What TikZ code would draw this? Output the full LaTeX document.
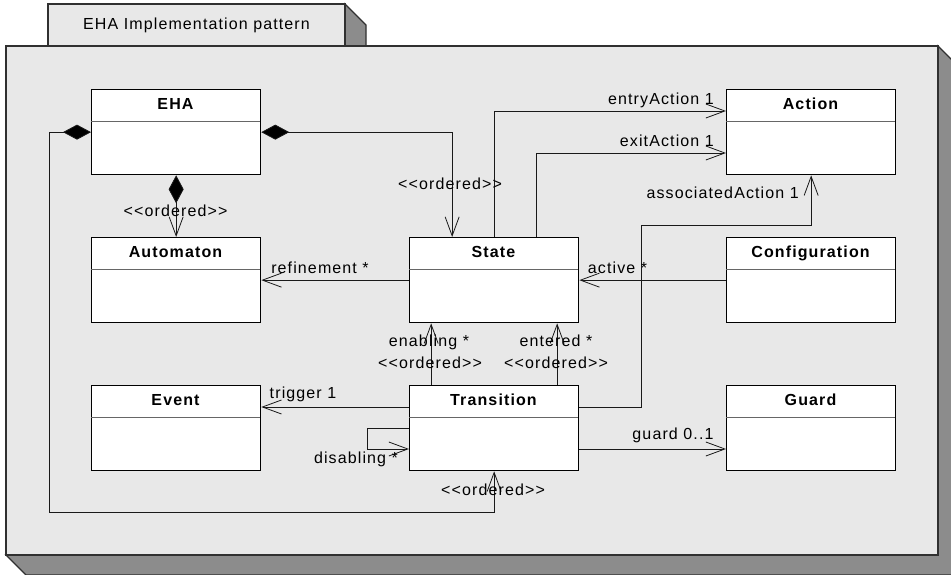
\documentclass[tikz,border=0pt]{standalone}
\usepackage{fontspec}
\newfontfamily\lblfont{Liberation Sans}[LetterSpace=7]
\usetikzlibrary{arrows.meta}
\definecolor{pkgface}{HTML}{E8E8E8}
\definecolor{pkgside}{HTML}{8C8C8C}
\definecolor{pkgedge}{HTML}{303030}
\tikzset{
  classbox/.style={draw=black, line width=1.3pt, fill=white, minimum width=169pt, minimum height=85pt, anchor=north west, inner sep=0pt},
  sepline/.style={draw=black!60, line width=0.9pt},
  classname/.style={font=\lblfont\bfseries\fontsize{16}{19}\selectfont, inner sep=0pt, text height=11.5pt, text depth=0pt},
  lbl/.style={font=\lblfont\fontsize{16}{19}\selectfont, inner sep=0pt, text height=11.5pt, text depth=0pt, text=black},
  conn/.style={draw=black!90, line width=0.8pt},
  navto/.style={-{Straight Barb[length=19pt,width=14pt]}},
  comp/.style={{Diamond[length=28pt,width=15pt,fill=black]}-{Straight Barb[length=19pt,width=14pt]}},
  pkg/.style={draw=pkgedge, line width=1.2pt, line join=miter}
}
\newcommand\umlcls[4]{%
  \node[classbox] (#1) at (#2,#3) {};
  \draw[sepline] (#2,#3+32) -- (#2+169,#3+32);
  \node[classname] (#1-name) at (#2+84.5,#3+15) {#4};
}
\begin{document}
\begin{tikzpicture}[x=1pt,y=-1pt]
\useasboundingbox (0,0) rectangle (951,575);
\clip (0,0) rectangle (951,575);
% package
\filldraw[pkg, fill=pkgside] (345,4) -- (366,25) -- (366,46) -- (345,46) -- cycle;
\filldraw[pkg, fill=pkgface] (48,4) rectangle (345,46);
\filldraw[pkg, fill=pkgside] (6,555) -- (26,575) -- (958,575) -- (958,66) -- (938,46) -- (938,555) -- cycle;
\filldraw[pkg, fill=pkgface] (6,46) rectangle (938,555);
\node[lbl] (title) at (196.5,24) {EHA Implementation pattern};
% classes
\umlcls{EHA}{91}{89}{EHA}
\umlcls{Automaton}{91}{237}{Automaton}
\umlcls{Event}{91}{385}{Event}
\umlcls{State}{409}{237}{State}
\umlcls{Transition}{409}{385}{Transition}
\umlcls{Action}{726}{89}{Action}
\umlcls{Configuration}{726}{237}{Configuration}
\umlcls{Guard}{726}{385}{Guard}
\coordinate (aa) at (641,225);
\coordinate (ll) at (49,512);
% connectors
\draw[conn, comp] (EHA.south) -- (Automaton.north);
\draw[conn, comp] (EHA.east) -| ([xshift=-42pt]State.north);
\draw[conn, comp] (EHA.west) -| (ll) -| (Transition.south);
\draw[conn, navto] (State.north) |- ([yshift=-22pt]Action.north west);
\draw[conn, navto] ([xshift=42pt]State.north) |- ([yshift=-64pt]Action.north west);
\draw[conn, navto] ([yshift=-22pt]Transition.north east) -| (aa) -| (Action.south);
\draw[conn, navto] (Configuration.west) -- (State.east);
\draw[conn, navto] (State.west) -- (Automaton.east);
\draw[conn, navto] ([xshift=-63pt]Transition.north) -- ([xshift=-63pt]State.south);
\draw[conn, navto] ([xshift=63pt]Transition.north) -- ([xshift=63pt]State.south);
\draw[conn, navto] ([yshift=-22pt]Transition.north west) -- ([yshift=-22pt]Event.north east);
\draw[conn, navto] ([yshift=-43pt]Transition.north west) -- ++(-42pt,0pt) |- ([yshift=-64pt]Transition.north west);
\draw[conn, navto] ([yshift=-64pt]Transition.north east) -- ([yshift=-64pt]Guard.north west);
% labels
\node[lbl] (l1) at (175.5,211) {<<ordered>>};
\node[lbl] (l2) at (450,184) {<<ordered>>};
\node[lbl, anchor=east] (l3) at (714,98.5) {entryAction 1};
\node[lbl, anchor=east] (l4) at (714,141) {exitAction 1};
\node[lbl, anchor=east] (l5) at (799,193) {associatedAction 1};
\node[lbl] (l6) at (617.5,268) {active *};
\node[lbl] (l7) at (320,268) {refinement *};
\node[lbl] (l8) at (429,341) {enabling *};
\node[lbl] (l9) at (430,363) {<<ordered>>};
\node[lbl] (l10) at (556,341) {entered *};
\node[lbl] (l11) at (556,363) {<<ordered>>};
\node[lbl] (l12) at (303,393) {trigger 1};
\node[lbl] (l13) at (673,434) {guard 0..1};
\node[lbl] (l14) at (356,458) {disabling *};
\node[lbl] (l15) at (493,490) {<<ordered>>};
\end{tikzpicture}
\end{document}
